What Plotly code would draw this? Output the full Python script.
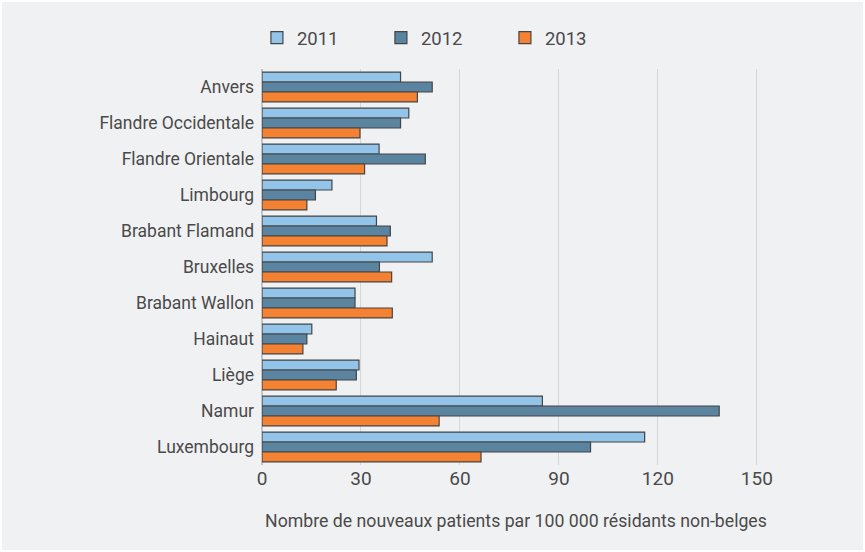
import plotly.graph_objects as go

categories = ["Anvers", "Flandre Occidentale", "Flandre Orientale", "Limbourg",
              "Brabant Flamand", "Bruxelles", "Brabant Wallon", "Hainaut",
              "Liège", "Namur", "Luxembourg"]
v2011 = [42.0, 44.5, 35.5, 21.2, 34.7, 51.6, 28.2, 15.1, 29.4, 85.0, 116.0]
v2012 = [51.6, 42.0, 49.5, 16.2, 38.9, 35.6, 28.2, 13.6, 28.6, 138.6, 99.6]
v2013 = [47.1, 29.7, 31.1, 13.6, 37.9, 39.3, 39.5, 12.4, 22.5, 53.7, 66.4]
tick_vals = [0, 30, 60, 90, 120, 150]
x_title = "Nombre de nouveaux patients par 100 000 résidants non-belges"

series = [("2011", v2011, "#93c5ea"), ("2012", v2012, "#5a84a0"), ("2013", v2013, "#f58232")]

fig = go.Figure()
for name, vals, col in series:
    fig.add_trace(go.Bar(
        y=categories, x=vals, name=name, orientation="h",
        marker=dict(color=col, line=dict(color="#454545", width=1.2)),
    ))

font_family = "Roboto, Open Sans, sans-serif"
fig.update_layout(
    width=861, height=548,
    paper_bgcolor="#f0f1f3", plot_bgcolor="#f0f1f3",
    margin=dict(l=260, r=93, t=67, b=85, autoexpand=False),
    barmode="group", bargap=0.17, bargroupgap=0,
    font=dict(family=font_family, size=17, color="#4a4a4a"),
    showlegend=True,
    legend=dict(orientation="h", x=-0.01, xanchor="left", y=1.03, yanchor="bottom",
                entrywidth=79, entrywidthmode="pixels",
                font=dict(size=18.5, color="#4a4a4a"), bgcolor="rgba(0,0,0,0)",
                traceorder="normal"),
    xaxis=dict(range=[0, 154], tickvals=tick_vals, showgrid=True, gridcolor="#d6d6d6",
               gridwidth=1, zeroline=True, zerolinecolor="#c4c4c4", zerolinewidth=1.5,
               showline=False, ticks="", tickfont=dict(size=19), automargin=False,
               title=dict(text=x_title, font=dict(size=17.7), standoff=25)),
    yaxis=dict(autorange="reversed", showgrid=False, zeroline=False, ticks="",
               ticklabelstandoff=7, tickfont=dict(size=17.5), automargin=False),
)

fig.write_html("out.html", post_script="document.body.style.margin='2px';document.body.style.background='#ffffff';")
